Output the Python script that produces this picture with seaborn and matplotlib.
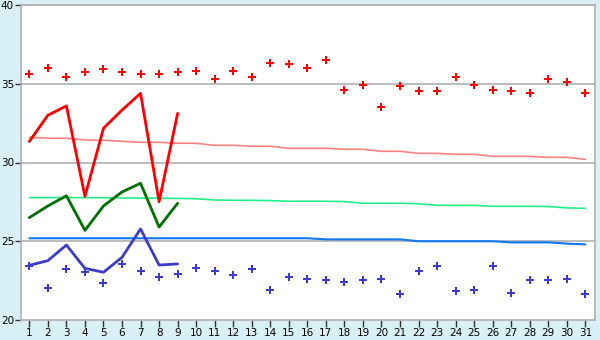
import matplotlib
matplotlib.use("Agg")
import matplotlib.pyplot as plt
import seaborn as sns
import pandas as pd
import numpy as np

days = list(range(1, 32))
max_temp = [35.6, 35.98, 35.41, 35.73, 35.92, 35.73, 35.6, 35.6, 35.73, 35.79,
            35.28, 35.79, 35.41, 36.30, 36.23, 35.98, 36.49, 34.58, 34.90, 33.50,
            34.84, 34.52, 34.52, 35.41, 34.90, 34.58, 34.52, 34.39, 35.28, 35.09, 34.39]
min_temp = [23.41, 22.01, 23.22, 23.03, 22.33, 23.54, 23.09, 22.71, 22.90, 23.28,
            23.09, 22.84, 23.22, 21.89, 22.71, 22.58, 22.52, 22.39, 22.52, 22.58,
            21.63, 23.09, 23.41, 21.82, 21.89, 23.41, 21.70, 22.52, 22.52, 22.58, 21.63]
cur_days = list(range(1, 10))
cur_max = [31.34, 33.0, 33.59, 27.85, 32.17, 33.33, 34.39, 27.51, 33.12]
cur_avg = [26.50, 27.24, 27.89, 25.69, 27.24, 28.13, 28.68, 25.90, 27.41]
cur_min = [23.47, 23.77, 24.76, 23.28, 23.03, 23.98, 25.78, 23.49, 23.56]
norm_max = [31.60, 31.54, 31.54, 31.43, 31.41, 31.35, 31.28, 31.28, 31.22, 31.22,
            31.09, 31.09, 31.03, 31.03, 30.90, 30.90, 30.90, 30.84, 30.84, 30.71,
            30.71, 30.58, 30.58, 30.52, 30.52, 30.39, 30.39, 30.39, 30.33, 30.33, 30.20]
norm_avg = [27.77, 27.77, 27.77, 27.77, 27.76, 27.75, 27.74, 27.73, 27.72, 27.70,
            27.62, 27.60, 27.60, 27.58, 27.54, 27.54, 27.54, 27.52, 27.41, 27.41,
            27.41, 27.38, 27.28, 27.28, 27.28, 27.22, 27.22, 27.22, 27.20, 27.12, 27.09]
norm_min = [25.19, 25.19, 25.19, 25.19, 25.19, 25.19, 25.19, 25.19, 25.19, 25.19,
            25.19, 25.19, 25.19, 25.19, 25.19, 25.19, 25.12, 25.12, 25.12, 25.12,
            25.12, 25.00, 25.00, 25.00, 25.00, 25.00, 24.93, 24.93, 24.93, 24.85, 24.80]
y_ticks = [20, 25, 30, 35, 40]

sns.set_theme(style="white")
plt.rcParams['font.family'] = ['DejaVu Sans']

bg = '#daf0f7'
fig = plt.figure(figsize=(6, 3.4), dpi=100, facecolor=bg)
ax = fig.add_axes([21/600, 20/340, 574/600, 315/340])
ax.set_facecolor('white')

norms = pd.DataFrame({'day': days, 'nmax': norm_max, 'navg': norm_avg, 'nmin': norm_min,
                      'max': max_temp, 'min': min_temp})
cur = pd.DataFrame({'day': cur_days, 'max': cur_max, 'avg': cur_avg, 'min': cur_min})

for yv in y_ticks[1:]:
    ax.axhline(yv, color='#b0b0b0', lw=1.2, zorder=0)

sns.lineplot(data=norms, x='day', y='nmax', color='#ff8080', lw=1.2, ax=ax)
sns.lineplot(data=norms, x='day', y='navg', color='#22ee88', lw=1.2, ax=ax)
sns.lineplot(data=norms, x='day', y='nmin', color='#1177ee', lw=1.5, ax=ax)

sns.lineplot(data=cur, x='day', y='max', color='#ff0000', lw=2, ax=ax)
sns.lineplot(data=cur, x='day', y='avg', color='#007000', lw=2, ax=ax)
sns.lineplot(data=cur, x='day', y='min', color='#3b3bcc', lw=2, ax=ax)

sns.scatterplot(data=norms, x='day', y='max', color='#ff0000', marker='P', s=30,
                linewidth=0, ax=ax)
sns.scatterplot(data=norms, x='day', y='min', color='#3b3bcc', marker='P', s=30,
                linewidth=0, ax=ax)

ax.set_xlim(0.55, 31.52)
ax.set_ylim(20, 40)
ax.set_xticks(days)
ax.set_xticklabels([str(d) for d in days])
ax.set_yticks(y_ticks)
ax.set_yticklabels([str(v) for v in y_ticks])
ax.set_xlabel('')
ax.set_ylabel('')
for s in ax.spines.values():
    s.set_color('#b0b0b0')
    s.set_linewidth(1.2)
ax.tick_params(axis='x', which='both', length=5, width=1, color='#333333',
               labelsize=7.5, labelcolor='black', pad=1, bottom=True)
ax.tick_params(axis='y', which='both', length=4, width=1, color='#333333',
               labelsize=7.5, labelcolor='black', pad=1, left=True)

fig.savefig('out.png', dpi=100, facecolor=bg)
